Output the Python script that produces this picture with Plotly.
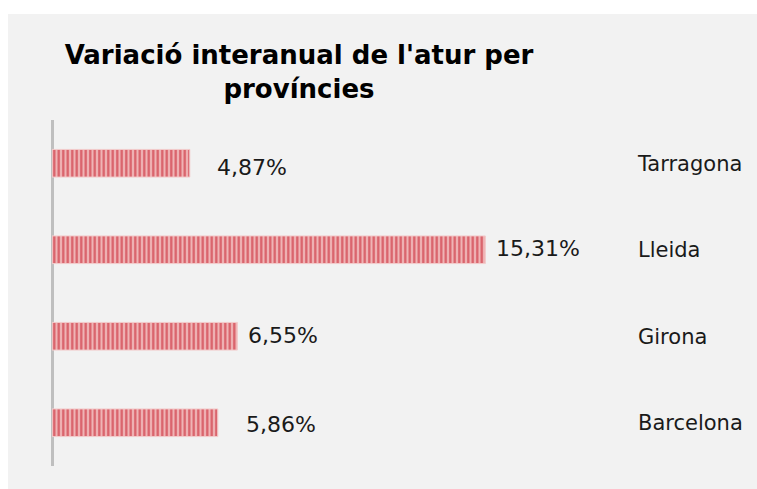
import plotly.graph_objects as go

categories = ["Barcelona", "Girona", "Lleida", "Tarragona"]
values = [5.86, 6.55, 15.31, 4.87]
value_labels = ["5,86%", "6,55%", "15,31%", "4,87%"]
label_xshift = [26, 9, 9, 25]
label_yshift = [-2, 1, 1, -4]

W, H = 757, 489
L, R, T, B = 52, 120, 120, 23
pw = W - L - R
ph = H - T - B
PX_PER_UNIT = 28.3

fig = go.Figure()
fig.add_trace(go.Bar(
    y=categories, x=values, orientation="h", width=0.32,
    marker=dict(
        color="#eeb0b1",
        line=dict(color="#f2cccc", width=1),
        pattern=dict(shape="|", size=4.5, solidity=0.5,
                     fgcolor="#d95f68", bgcolor="#efb4b5", fillmode="replace"),
    ),
    hoverinfo="skip",
))

for c, v, t, xs, ys in zip(categories, values, value_labels, label_xshift, label_yshift):
    fig.add_annotation(x=v, y=c, text=t, showarrow=False, xanchor="left",
                       xshift=xs, yshift=ys,
                       font=dict(family="DejaVu Sans", size=22, color="#1a1a1a"))

fig.add_shape(type="rect", xref="paper", yref="paper",
              x0=(8 - L) / pw, x1=(W + 10 - L) / pw,
              y0=-(B + 10) / ph, y1=(ph + T - 14) / ph,
              fillcolor="#f2f2f2", line=dict(width=0), layer="below")

fig.update_layout(
    width=W, height=H,
    margin=dict(l=L, r=R, t=T, b=B, pad=0),
    paper_bgcolor="white", plot_bgcolor="rgba(0,0,0,0)",
    showlegend=False,
    title=dict(text="<b>Variació interanual de l'atur per<br>províncies</b>",
               x=299 / W, xanchor="center", xref="container",
               y=1 - 64 / H, yanchor="top", yref="container",
               font=dict(family="DejaVu Sans", size=26, color="#000000")),
    xaxis=dict(range=[0, pw / PX_PER_UNIT], showgrid=False, showticklabels=False,
               zeroline=True, zerolinecolor="#bfbfbf", zerolinewidth=3,
               showline=False, ticks=""),
    yaxis=dict(side="right", showgrid=False, zeroline=False, showline=False,
               ticks="", categoryorder="array", categoryarray=categories,
               range=[-0.5, 3.5],
               tickfont=dict(family="DejaVu Sans", size=21, color="#1a1a1a")),
)

fig.write_html("out.html", config={"displayModeBar": False},
               post_script="document.body.style.margin='0';"
                           "document.body.style.overflow='hidden';"
                           "document.body.style.background='#f2f2f2';"
                           "document.documentElement.style.background='#f2f2f2';")
